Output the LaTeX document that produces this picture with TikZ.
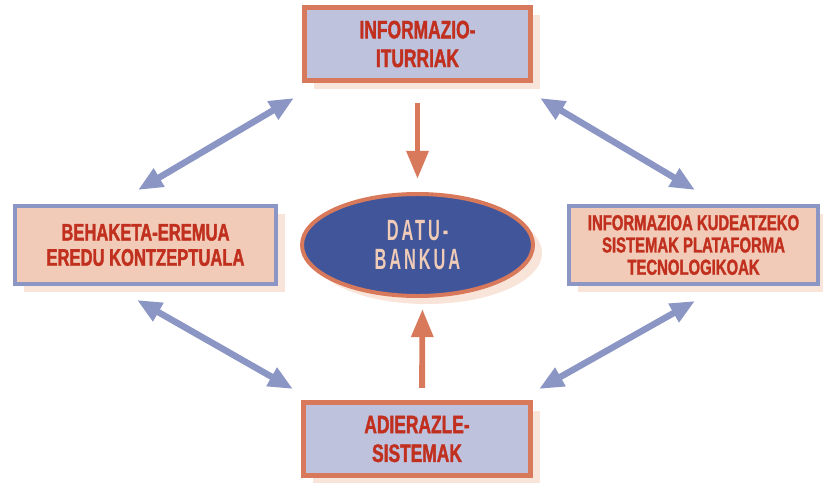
\documentclass[tikz,border=0pt]{standalone}
\usepackage{fontspec}
\usepackage{tikz}
\usetikzlibrary{arrows.meta, shapes.geometric, shadows, positioning}
\newfontfamily\condfont[FakeStretch=0.69,FakeBold=1.5]{Liberation Sans Bold}
\newfontfamily\bankfont[FakeStretch=0.56,LetterSpace=10]{Liberation Sans Bold}
\definecolor{boxlilac}{RGB}{190, 194, 221}
\definecolor{boxpeach}{RGB}{241, 203, 184}
\definecolor{rimorange}{RGB}{217, 121, 91}
\definecolor{rimblue}{RGB}{139, 150, 196}
\definecolor{bankblue}{RGB}{65, 86, 154}
\definecolor{labelred}{RGB}{193, 48, 30}
\definecolor{banktext}{RGB}{240, 204, 184}
\definecolor{shadowpeach}{RGB}{249, 228, 217}

\begin{document}
\begin{tikzpicture}[x=0.03cm, y=-0.03cm,
    peachshadow/.style={general shadow={shadow xshift=0.27cm, shadow yshift=-0.24cm, fill=shadowpeach}},
    lilacbox/.style={rectangle, peachshadow, fill=boxlilac, draw=rimorange, line width=4.3pt,
        align=center, text=labelred, font=\condfont\fontsize{21.5}{24.5}\selectfont},
    peachbox/.style={rectangle, peachshadow, fill=boxpeach, draw=rimblue, line width=3.4pt,
        align=center, text=labelred, font=\condfont\fontsize{20.5}{21.5}\selectfont},
    bluearrow/.style={draw=rimblue, line width=5.5pt,
        {Triangle[length=21pt,width=17pt]}-{Triangle[length=21pt,width=17pt]}},
    orangearrow/.style={draw=rimorange, line width=5pt, -{Triangle[length=24pt,width=18pt]}}]

\useasboundingbox (0,0) rectangle (823,482);

% boxes round the data bank
\node[lilacbox, minimum width=6.78cm, minimum height=2.19cm] (iturriak) at (417.5,44) {INFORMAZIO-\\ITURRIAK};
\node[peachbox, minimum width=7.83cm, minimum height=2.34cm] (behaketa) at (145.5,245) {BEHAKETA-EREMUA\\EREDU KONTZEPTUALA};
\node[peachbox, minimum width=7.47cm, minimum height=2.34cm,
      font=\condfont\fontsize{18.4}{19}\selectfont] (plataforma) at (693.5,245)
      {INFORMAZIOA KUDEATZEKO\\SISTEMAK PLATAFORMA\\TECNOLOGIKOAK};
\node[lilacbox, minimum width=6.81cm, minimum height=2.19cm] (adierazle) at (417,439) {ADIERAZLE-\\SISTEMAK};

% data bank
\node[ellipse, peachshadow, fill=bankblue, draw=rimorange, line width=3.4pt, inner sep=0pt,
      minimum width=6.93cm, minimum height=3.06cm, align=center, text=banktext,
      font=\bankfont\fontsize{25}{25}\selectfont] (datubanku) at (417.5,245) {DATU-\\BANKUA};

% flows into the data bank
\draw[orangearrow, shorten <=0.6cm, shorten >=0.39cm] (iturriak.south) -- (datubanku.north);
\draw[orangearrow, shorten <=0.36cm, shorten >=0.33cm] ([xshift=0.15cm]adierazle.north) -- ([xshift=0.15cm]datubanku.south);

% links between the boxes
\draw[bluearrow] ([shift={(-7.5,-14)}]behaketa.north) -- ([shift={(-8,15)}]iturriak.south west);
\draw[bluearrow] ([shift={(7,15)}]iturriak.south east) -- ([shift={(1.5,-14)}]plataforma.north);
\draw[bluearrow] ([shift={(1.5,15)}]plataforma.south) -- ([shift={(6,-11)}]adierazle.north east);
\draw[bluearrow] ([shift={(-8.5,14)}]behaketa.south) -- ([shift={(-8,-11)}]adierazle.north west);

\end{tikzpicture}
\end{document}
